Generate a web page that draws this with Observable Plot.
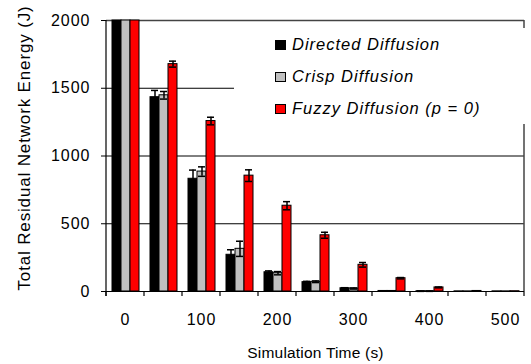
<!DOCTYPE html>
<html>
<head>
<meta charset="utf-8">
<script src="https://cdn.jsdelivr.net/npm/d3@7"></script>
<script src="https://cdn.jsdelivr.net/npm/@observablehq/plot@0.6"></script>
<style>
  body { margin: 0; background: #fff; }
  #wrap { position: relative; width: 531px; height: 364px; font-family: "Liberation Sans", Arial, sans-serif; }
  #wrap svg text { letter-spacing: 1px; }
  #wrap g[aria-label="y-axis label"] text { font-size: 17px; letter-spacing: 0.85px; }
  #wrap g[aria-label="fx-axis label"] text { font-size: 15.5px; letter-spacing: 0.2px; }
  #legend { position: absolute; left: 234px; top: 28px; width: 292px; height: 96px; background: #fff; }
  .item { position: absolute; left: 41px; height: 22px; display: flex; align-items: center; font-style: italic; font-size: 16.5px; letter-spacing: 1px; color: #000; white-space: nowrap; }
  .sw { width: 11px; height: 10px; border: 1px solid #000; box-sizing: border-box; margin-right: 6px; }
</style>
</head>
<body>
<div id="wrap"></div>
<script>
const times = [0, 50, 100, 150, 200, 250, 300, 350, 400, 450, 500];
const seriesNames = ["Directed Diffusion", "Crisp Diffusion", "Fuzzy Diffusion (p = 0)"];
const directed    = [2000, 1434, 832, 271, 142, 69, 24, 4, 2, 1, 1];
const directedErr = [0, 50, 64, 37, 10, 6, 4, 1, 1, 0, 0];
const crisp       = [2000, 1448, 885, 315, 135, 72, 22, 4, 2, 1, 1];
const crispErr    = [0, 28, 35, 56, 12, 6, 4, 1, 1, 0, 0];
const fuzzy       = [2000, 1678, 1258, 855, 633, 415, 197, 98, 30, 4, 2];
const fuzzyErr    = [0, 22, 28, 43, 30, 22, 17, 5, 3, 1, 0];
const colors = ["#000000", "#c0c0c0", "#ff0000"];
const yTicks = [0, 500, 1000, 1500, 2000];
const xLabels = [0, 100, 200, 300, 400, 500];

const seriesValues = [directed, crisp, fuzzy];
const seriesErrs = [directedErr, crispErr, fuzzyErr];
const rows = [];
times.forEach((t, i) => {
  seriesNames.forEach((s, j) => {
    rows.push({time: t, series: s, value: seriesValues[j][i], err: seriesErrs[j][i]});
  });
});
const errRows = rows.filter(d => d.err > 0);

const plot = Plot.plot({
  width: 531,
  height: 364,
  marginLeft: 101,
  marginRight: 3,
  marginTop: 20,
  marginBottom: 73,
  style: {fontFamily: "'Liberation Sans', Arial, sans-serif", fontSize: "16px", background: "transparent", color: "#000"},
  fx: {domain: times, padding: 0, axis: "bottom", label: "Simulation Time (s)", labelAnchor: "center", labelOffset: 66,
       tickFormat: d => xLabels.includes(d) ? String(d) : "", tickSize: 0, tickPadding: 22},
  x: {domain: seriesNames, paddingInner: 0, paddingOuter: 0.54, axis: null},
  y: {domain: [0, 2000], ticks: yTicks, tickFormat: d => String(d), tickSize: 5, tickPadding: 11,
      label: "Total Residual Network Energy (J)", labelAnchor: "center", labelOffset: 89, labelArrow: "none"},
  color: {domain: seriesNames, range: colors},
  marks: [
    Plot.ruleY(yTicks.slice(1, 4), {stroke: "#000", strokeWidth: 1}),
    Plot.ruleY([2000], {stroke: "#444", strokeWidth: 1.5}),
    Plot.barY(rows, {fx: "time", x: "series", y: "value", fill: "series", stroke: "#000", strokeWidth: 1}),
    Plot.ruleX(errRows, {fx: "time", x: "series", y1: d => d.value - d.err, y2: d => d.value + d.err, stroke: "#000", strokeWidth: 1.5}),
    Plot.tickY(errRows, {fx: "time", x: "series", y: d => d.value + d.err, stroke: "#000", strokeWidth: 1.5, insetLeft: 1, insetRight: 1}),
    Plot.tickY(errRows, {fx: "time", x: "series", y: d => d.value - d.err, stroke: "#000", strokeWidth: 1.5, insetLeft: 1, insetRight: 1}),
    Plot.ruleY([0], {stroke: "#000", strokeWidth: 1.2})
  ]
});

const wrap = document.getElementById("wrap");
wrap.appendChild(plot);

// axis line, group-boundary ticks and right frame, positioned with Plot's own scales
const svgNode = plot.tagName.toLowerCase() === "svg" ? plot : plot.querySelector("svg");
const svg = d3.select(svgNode);
const fxs = plot.scale("fx");
const ys = plot.scale("y");
const bw = fxs.bandwidth;
const y0 = ys.apply(0), yTop = ys.apply(2000);
const boundaries = times.map(t => fxs.apply(t)).concat([fxs.apply(times[times.length - 1]) + bw]);
const g = svg.append("g").attr("stroke", "#000");
g.selectAll("line.b").data(boundaries).join("line")
  .attr("x1", d => d).attr("x2", d => d).attr("y1", y0).attr("y2", y0 + 5).attr("stroke-width", 1.2);
g.append("line").attr("x1", boundaries[0]).attr("x2", boundaries[0]).attr("y1", yTop).attr("y2", y0 + 5).attr("stroke-width", 1.2);
g.append("line").attr("x1", boundaries[boundaries.length - 1]).attr("x2", boundaries[boundaries.length - 1])
  .attr("y1", yTop).attr("y2", y0).attr("stroke", "#444").attr("stroke-width", 1.5);

// nudge the y title up a little, as in the reference
svg.select('g[aria-label="y-axis label"]').each(function() {
  const t = this.getAttribute("transform") || "";
  this.setAttribute("transform", "translate(0,-8) " + t);
});

// legend
const legend = document.createElement("div");
legend.id = "legend";
const rowCenters = [44.5, 76.5, 108.5];
seriesNames.forEach((s, i) => {
  const item = document.createElement("div");
  item.className = "item";
  item.style.top = (rowCenters[i] - 28 - 11) + "px";
  const sw = document.createElement("span");
  sw.className = "sw";
  sw.style.background = colors[i];
  const label = document.createElement("span");
  label.textContent = s;
  item.appendChild(sw);
  item.appendChild(label);
  legend.appendChild(item);
});
wrap.appendChild(legend);
</script>
</body>
</html>
